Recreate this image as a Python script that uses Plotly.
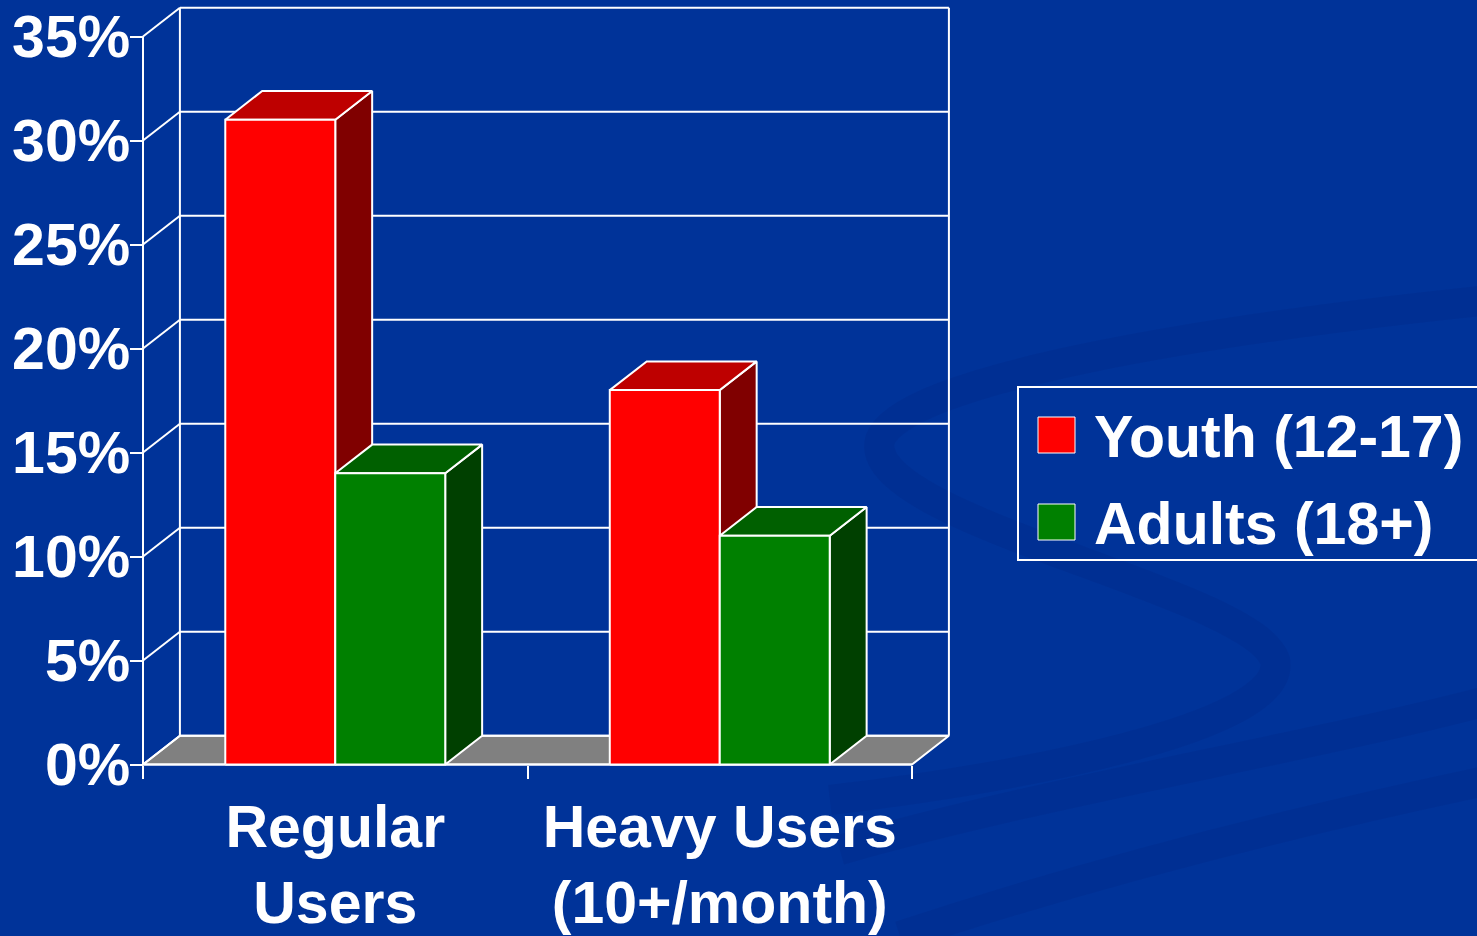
import plotly.graph_objects as go

# ---------------- data ----------------
categories = ["Regular<br>Users", "Heavy Users<br>(10+/month)"]
series_names = ["Youth (12-17)", "Adults (18+)"]
youth = [31, 18]
adults = [14, 11]
y_ticks = [0, 5, 10, 15, 20, 25, 30, 35]

# ---------------- styling ----------------
BG = "#003399"
W, H = 1477, 936
FONT = "Liberation Sans, Arial, sans-serif"
FS = 59
front_cols = ["#FF0000", "#008000"]
top_cols = ["#BE0000", "#006000"]
side_cols = ["#800000", "#004000"]
GRID = "white"

# geometry in data units
BAR_W = 0.286          # width of each bar (category spacing = 1)
DX, DY = 0.096, 1.38   # depth offset (x units, % units)
XMIN_F, XMAX_F = -0.5, len(categories) - 0.5
YMAX = y_ticks[-1]

# plot-area calibration (pixels)
PX_X = 384.5     # px per x unit
PX_Y = 20.8      # px per % unit
X_FRONT_PX = 143 # pixel of x=-0.5
Y_ZERO_PX = 764.5
L_PX, R_PX, T_PX, B_PX = 120, 975, 0, 790

xr = [XMIN_F - (X_FRONT_PX - L_PX) / PX_X, XMIN_F + (R_PX - X_FRONT_PX) / PX_X]
yr = [-(B_PX - Y_ZERO_PX) / PX_Y, (Y_ZERO_PX - T_PX) / PX_Y]

fig = go.Figure()


def poly(xs, ys, fill, lw=2):
    fig.add_trace(go.Scatter(
        x=list(xs) + [xs[0]], y=list(ys) + [ys[0]], mode="lines",
        fill="toself" if fill else None, fillcolor=fill,
        line=dict(color="white", width=lw), hoverinfo="skip", showlegend=False))


def line(xs, ys, lw=2):
    fig.add_trace(go.Scatter(x=xs, y=ys, mode="lines", line=dict(color=GRID, width=lw),
                             hoverinfo="skip", showlegend=False))


# floor
poly([XMIN_F, XMAX_F, XMAX_F + DX, XMIN_F + DX], [0, 0, DY, DY], "#808080")

# back wall grid + left wall diagonals
for v in y_ticks:
    line([XMIN_F + DX, XMAX_F + DX], [v + DY, v + DY])
    line([XMIN_F, XMIN_F + DX], [v, v + DY])
line([XMIN_F + DX, XMIN_F + DX], [DY, YMAX + DY])
line([XMAX_F + DX, XMAX_F + DX], [DY, YMAX + DY])
# front axes
line([XMIN_F, XMIN_F], [0, YMAX])
line([XMIN_F, XMAX_F], [0, 0])

# bars
data = [youth, adults]
for i in range(len(categories)):
    for s, vals in enumerate(data):
        v = vals[i]
        x0 = i - BAR_W + s * BAR_W
        x1 = x0 + BAR_W
        poly([x1, x1 + DX, x1 + DX, x1], [0, DY, v + DY, v], side_cols[s])
        poly([x0, x1, x1 + DX, x0 + DX], [v, v, v + DY, v + DY], top_cols[s])
        poly([x0, x1, x1, x0], [0, 0, v, v], front_cols[s])


def px2paper(px, py):
    return px / W, 1 - py / H


def path_from_px(pts):
    out = []
    for cmd, *p in pts:
        coords = []
        for j in range(0, len(p), 2):
            x, y = px2paper(p[j], p[j + 1])
            coords.append(f"{x:.4f},{y:.4f}")
        out.append(cmd + " ".join(coords))
    return " ".join(out)


shapes = []
# subtle background swooshes
SW = "rgba(0,30,110,0.14)"
swooshes = [
    [("M", 1490, 300), ("C", 1200, 330, 900, 380, 880, 440), ("C", 860, 520, 1250, 590, 1275, 660),
     ("C", 1290, 730, 1000, 780, 830, 800)],
    [("M", 840, 850), ("C", 1050, 790, 1300, 750, 1490, 700)],
    [("M", 900, 936), ("C", 1100, 870, 1300, 820, 1490, 780)],
]
for sp in swooshes:
    shapes.append(dict(type="path", xref="paper", yref="paper", path=path_from_px(sp),
                       line=dict(color=SW, width=30), layer="below"))

# legend (manual)
lx0, ly0 = px2paper(1018, 387)
lx1, ly1 = px2paper(1500, 560)
shapes.append(dict(type="rect", xref="paper", yref="paper", x0=lx0, x1=lx1, y0=ly1, y1=ly0,
                   line=dict(color="white", width=2), fillcolor="rgba(0,0,0,0)"))
annotations = []
for k, name in enumerate(series_names):
    cy = 435 + k * 87
    sx0, sy0 = px2paper(1038, cy - 18)
    sx1, sy1 = px2paper(1075, cy + 18)
    shapes.append(dict(type="rect", xref="paper", yref="paper", x0=sx0, x1=sx1, y0=sy1, y1=sy0,
                       line=dict(color="white", width=1), fillcolor=front_cols[k]))
    tx, ty = px2paper(1092, cy + 2)
    annotations.append(dict(text=name, xref="paper", yref="paper", x=tx, y=ty,
                            xanchor="left", yanchor="middle", showarrow=False,
                            font=dict(family=FONT, size=FS, color="white", weight="bold")))

tickfont = dict(family=FONT, size=FS, color="white", weight="bold")

fig.update_layout(
    width=W, height=H,
    margin=dict(l=0, r=0, t=0, b=0, autoexpand=False),
    paper_bgcolor=BG, plot_bgcolor="rgba(0,0,0,0)",
    xaxis=dict(domain=[L_PX / W, R_PX / W], range=xr, anchor="free",
               position=1 - Y_ZERO_PX / H, automargin=False,
               tickvals=list(range(len(categories))), ticktext=categories,
               ticks="", showgrid=False, zeroline=False, showline=False,
               tickfont=tickfont, ticklabelstandoff=22,
               minor=dict(tickvals=[XMIN_F + k for k in range(len(categories) + 1)],
                          ticks="outside", ticklen=13, tickwidth=2, tickcolor="white",
                          showgrid=False)),
    yaxis=dict(domain=[1 - B_PX / H, 1 - T_PX / H], range=yr, anchor="free",
               position=X_FRONT_PX / W, automargin=False,
               tickvals=y_ticks, ticktext=[f"{t}%" for t in y_ticks],
               ticks="outside", ticklen=13, tickwidth=2, tickcolor="white",
               showgrid=False, zeroline=False, showline=False,
               tickfont=tickfont, ticklabelstandoff=-12),
    shapes=shapes, annotations=annotations,
    showlegend=False,
)

fig.write_html("out.html", config={"displayModeBar": False},
               post_script="document.body.style.margin='0';document.body.style.background='%s';" % BG)
